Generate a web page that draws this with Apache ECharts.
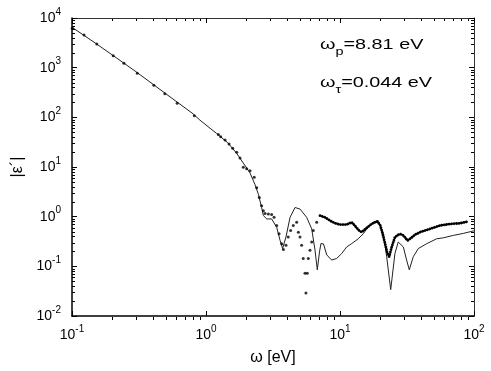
<!DOCTYPE html>
<html>
<head>
<meta charset="utf-8">
<script src="https://cdn.jsdelivr.net/npm/echarts@6/dist/echarts.min.js"></script>
<style>
  html, body { margin: 0; padding: 0; background: #fff; }
  #chart { width: 491px; height: 371px; }
</style>
</head>
<body>
<div id="chart"></div>
<script>
// model curve (thin line)
const lineOmega = [0.1, 0.15, 0.2, 0.3, 0.5, 0.8, 0.9, 1.2, 1.45, 1.69, 2.13, 2.32, 2.46, 2.6, 2.68, 2.84, 3.09, 3.37, 3.57, 3.73, 3.95, 4.24, 4.62, 5.03, 5.64, 6.15, 6.51, 6.77, 7.03, 7.21, 7.53, 7.96, 8.67, 9.45, 10.3, 11.2, 12.2, 13.7, 14.9, 16.2, 17.7, 19.3, 21.1, 22.3, 23.9, 25.7, 27.2, 29.7, 31.4, 32.9, 35.2, 38.4, 44.4, 52.7, 59.0, 70.2, 83.2, 100]
const lineEps = [6500, 3100, 1800, 830, 300, 118, 88, 47.3, 31, 19.0, 7.6, 4.44, 2.82, 1.53, 1.05, 0.90, 0.90, 0.61, 0.334, 0.228, 0.388, 0.97, 1.53, 1.42, 0.97, 0.568, 0.211, 0.085, 0.195, 0.288, 0.282, 0.170, 0.134, 0.144, 0.181, 0.245, 0.286, 0.359, 0.452, 0.614, 0.771, 0.834, 0.452, 0.156, 0.034, 0.181, 0.309, 0.245, 0.134, 0.085, 0.156, 0.228, 0.286, 0.359, 0.375, 0.42, 0.46, 0.52]

// measured points, sparse part
const dotOmega = [0.1005, 0.123, 0.153, 0.203, 0.244, 0.307, 0.408, 0.493, 0.609, 0.818, 1.236, 1.288, 1.387, 1.486, 1.582, 1.695, 1.794, 1.898, 2.01, 2.13, 2.29, 2.39, 2.50, 2.60, 2.68, 2.76, 2.92, 3.09, 3.22, 3.37, 3.51, 3.67, 3.78, 3.95, 4.11, 4.28, 4.48, 4.75, 4.89, 5.03, 5.17, 5.32, 5.48, 5.57, 5.70, 5.80, 5.97, 6.15, 6.32, 6.70]
const dotEps = [6240, 4530, 3000, 1730, 1230, 771, 445, 299, 192, 108, 45.2, 40.7, 34.9, 29.0, 23.8, 19.8, 15.1, 9.87, 9.25, 8.44, 6.24, 3.83, 2.42, 1.66, 1.32, 1.16, 1.13, 1.10, 0.97, 0.664, 0.452, 0.286, 0.217, 0.266, 0.388, 0.527, 0.664, 0.771, 0.488, 0.388, 0.266, 0.144, 0.0724, 0.029, 0.0724, 0.144, 0.211, 0.309, 0.527, 0.771]

// measured points, dense part (drawn dotted)
const denseOmega = [7.09, 7.3, 7.73, 8.42, 9.18, 10.0, 11.2, 12.2, 12.9, 13.7, 14.5, 15.8, 17.2, 18.8, 19.9, 20.8, 21.7, 22.6, 23.3, 24.3, 25.7, 28.0, 29.7, 31.9, 33.9, 36.3, 39.6, 47.0, 55.7, 66.2, 78.7, 88.7]
const denseEps = [1.05, 1.13, 0.97, 0.834, 0.736, 0.693, 0.693, 0.771, 0.664, 0.542, 0.488, 0.594, 0.713, 0.807, 0.693, 0.452, 0.286, 0.181, 0.156, 0.245, 0.388, 0.452, 0.42, 0.331, 0.371, 0.435, 0.488, 0.568, 0.664, 0.713, 0.736, 0.789]

// minor tick positions (2..9 in every decade)
const xMinorTicks = [0.2, 0.3, 0.4, 0.5, 0.6, 0.7, 0.8, 0.9, 2, 3, 4, 5, 6, 7, 8, 9, 20, 30, 40, 50, 60, 70, 80, 90]
const yMinorTicks = [0.02, 0.03, 0.04, 0.05, 0.06, 0.07, 0.08, 0.09, 0.2, 0.3, 0.4, 0.5, 0.6, 0.7, 0.8, 0.9, 2, 3, 4, 5, 6, 7, 8, 9, 20, 30, 40, 50, 60, 70, 80, 90, 200, 300, 400, 500, 600, 700, 800, 900, 2000, 3000, 4000, 5000, 6000, 7000, 8000, 9000]

const FONT = 'Liberation Sans, Arial, sans-serif'

const chart = echarts.init(document.getElementById('chart'))

function powLabel(v) {
  const e = Math.round(Math.log10(v))
  return '{b|10}{s|' + e + '}'
}
const powRich = {
  b: { fontSize: 14, fontFamily: FONT, color: '#000', verticalAlign: 'bottom', lineHeight: 14 },
  s: { fontSize: 10, fontFamily: FONT, color: '#000', verticalAlign: 'bottom', lineHeight: 10, padding: [0, 0, 8, 0] }
}

const tickStyle = { show: true, inside: true, length: 5, lineStyle: { color: '#000', width: 1 } }

const subRich = {
  m: { fontSize: 15, fontFamily: FONT, fill: '#000', verticalAlign: 'top', lineHeight: 15 },
  p: { fontSize: 11, fontFamily: FONT, fill: '#000', verticalAlign: 'top', lineHeight: 11, padding: [9, 0, 0, 0] }
}

const option = {
  backgroundColor: '#fff',
  animation: false,
  grid: { left: 72, right: 17, top: 18, bottom: 51 },
  xAxis: [
    {
      type: 'log', min: 0.1, max: 100, logBase: 10,
      name: 'ω [eV]', nameLocation: 'middle', nameGap: 34,
      nameTextStyle: { fontSize: 16, fontFamily: FONT, color: '#000' },
      axisLine: { lineStyle: { color: '#000', width: 1.5 } },
      axisTick: tickStyle,
      axisLabel: { formatter: powLabel, rich: powRich, margin: 12 },
      splitLine: { show: false }
    },
    {
      type: 'log', min: 0.1, max: 100, logBase: 10, position: 'top',
      axisLine: { lineStyle: { color: '#333', width: 1 } },
      axisTick: tickStyle,
      axisLabel: { show: false }, splitLine: { show: false }
    }
  ],
  yAxis: [
    {
      type: 'log', min: 0.01, max: 10000, logBase: 10, splitNumber: 6,
      name: '|ε´|', nameLocation: 'middle', nameGap: 40, nameRotate: 90,
      nameTextStyle: { fontSize: 16, fontFamily: FONT, color: '#000' },
      axisLine: { lineStyle: { color: '#000', width: 1.5 } },
      axisTick: tickStyle,
      axisLabel: { formatter: powLabel, rich: powRich, margin: 11 },
      splitLine: { show: false }
    },
    {
      type: 'log', min: 0.01, max: 10000, logBase: 10, splitNumber: 6, position: 'right',
      axisLine: { lineStyle: { color: '#333', width: 1 } },
      axisTick: tickStyle,
      axisLabel: { show: false }, splitLine: { show: false }
    }
  ],
  series: [
    {
      type: 'line',
      data: lineOmega.map((w, i) => [w, lineEps[i]]),
      showSymbol: false,
      lineStyle: { color: '#222', width: 1 },
      z: 2
    },
    {
      type: 'scatter',
      data: dotOmega.map((w, i) => [w, dotEps[i]]),
      symbol: 'circle', symbolSize: 3,
      itemStyle: { color: '#000' },
      z: 3
    },
    {
      type: 'line',
      data: denseOmega.map((w, i) => [w, denseEps[i]]),
      showSymbol: false,
      lineStyle: { color: '#000', width: 2.8, type: [0.1, 2.4], cap: 'round' },
      z: 3
    }
  ]
}

chart.setOption(option)

// minor ticks + annotations, placed through the axes' own conversion
const gl = 72, gt = 18, gr = 491 - 17, gb = 371 - 51
const tickLine = { stroke: '#000', lineWidth: 1 }
const graphics = []
xMinorTicks.forEach(v => {
  const px = Math.round(chart.convertToPixel({ xAxisIndex: 0 }, v)) + 0.5
  graphics.push({ type: 'line', shape: { x1: px, y1: gb, x2: px, y2: gb - 3 }, style: tickLine, silent: true })
  graphics.push({ type: 'line', shape: { x1: px, y1: gt, x2: px, y2: gt + 3 }, style: tickLine, silent: true })
})
yMinorTicks.forEach(v => {
  const py = Math.round(chart.convertToPixel({ yAxisIndex: 0 }, v)) + 0.5
  graphics.push({ type: 'line', shape: { x1: gl, y1: py, x2: gl + 3, y2: py }, style: tickLine, silent: true })
  graphics.push({ type: 'line', shape: { x1: gr, y1: py, x2: gr - 3, y2: py }, style: tickLine, silent: true })
})
graphics.push({
  type: 'text', x: 320, y: 37, scaleX: 1.32,
  style: { text: '{m|ω}{p|p}{m|=8.81 eV}', rich: subRich }
})
graphics.push({
  type: 'text', x: 320, y: 75, scaleX: 1.32,
  style: { text: '{m|ω}{p|τ}{m|=0.044 eV}', rich: subRich }
})
chart.setOption({ graphic: graphics })
</script>
</body>
</html>
